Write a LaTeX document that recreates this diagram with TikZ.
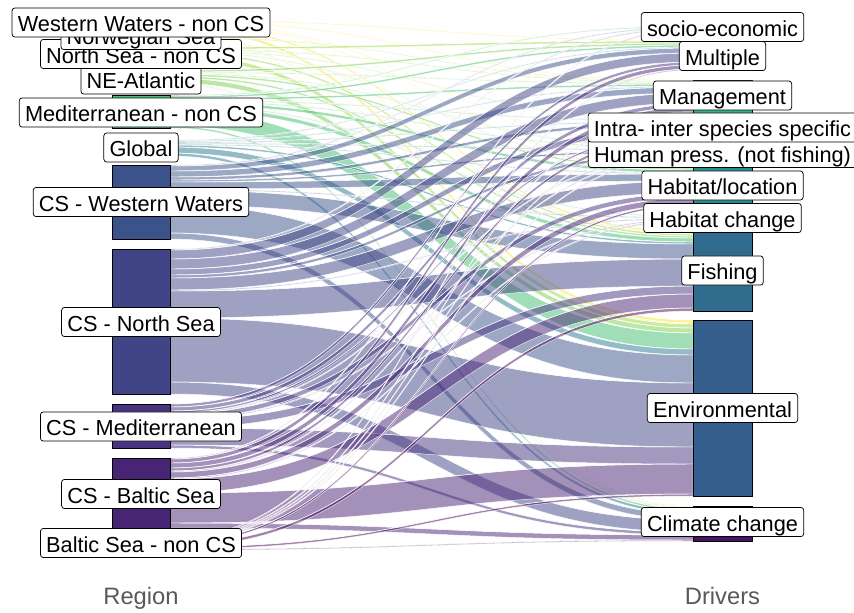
\documentclass[tikz,border=0pt]{standalone}
\usepackage{fontspec}
\setmainfont{Liberation Sans}
% region colours (top to bottom on the left axis)
\definecolor{reg1}{HTML}{FDE725}
\definecolor{reg2}{HTML}{BBDF27}
\definecolor{reg3}{HTML}{9AD93C}
\definecolor{reg4}{HTML}{7AD151}
\definecolor{reg5}{HTML}{43BF71}
\definecolor{reg6}{HTML}{2A788E}
\definecolor{reg7}{HTML}{3B528B}
\definecolor{reg8}{HTML}{414487}
\definecolor{reg9}{HTML}{463480}
\definecolor{reg10}{HTML}{482475}
\definecolor{reg11}{HTML}{440154}
% driver colours (top to bottom on the right axis)
\definecolor{drv1}{HTML}{DCE318}
\definecolor{drv2}{HTML}{5EC962}
\definecolor{drv3}{HTML}{2FB47C}
\definecolor{drv4}{HTML}{22A884}
\definecolor{drv5}{HTML}{1E9C89}
\definecolor{drv6}{HTML}{21908C}
\definecolor{drv7}{HTML}{25848E}
\definecolor{drv8}{HTML}{2F6C8E}
\definecolor{drv9}{HTML}{355F8D}
\definecolor{drv10}{HTML}{471365}
\definecolor{axgrey}{HTML}{595959}
\begin{document}
\begin{tikzpicture}[x=0.75pt,y=-0.75pt,
  lab/.style={draw=black, fill=white, rounded corners=2.2pt, line width=0.55pt,
    inner xsep=4.3pt, inner ysep=3.2pt, text height=14.5pt, text depth=1pt,
    font=\fontsize{16.3}{17}\selectfont},
  flowband/.style={fill=#1, fill opacity=0.5, draw=white, draw opacity=0.85, line width=0.35pt},
  stratum/.style={fill=#1, draw=black, line width=0.6pt},
  axtitle/.style={text=axgrey, anchor=base, font=\fontsize{17.8}{20}\selectfont}]
\useasboundingbox (0,0) rectangle (854,612);
\fill[white] (0,0) rectangle (854,612);

% running offsets of the strata (left: regions, right: drivers)
\foreach \i/\v in {1/20,2/37,3/47,4/70,5/95,6/140,7/165,8/249,9/404,10/458,11/538}
  {\expandafter\xdef\csname Lcur\i\endcsname{\v}}
\foreach \i/\v in {1/26,2/40,3/80,4/119,5/146,6/166,7/216,8/231,9/320,10/506}
  {\expandafter\xdef\csname Rcur\i\endcsname{\v}}

% flows: one row per region, columns = drivers
\foreach \r/\row in {
  1/{0,1,1,0,1,1,0,2,3,1},
  2/{0,0,1,0,0,0,0,1,1,0},
  3/{0,2,1,1,0,1,0,2,4,1},
  4/{0,2,1,0,1,2,0,2,5,1},
  5/{1,2,2,1,1,3,1,4,16,2},
  6/{0,1,1,1,1,1,0,2,6,3},
  7/{1,5,6,3,2,7,1,15,28,6},
  8/{1,9,10,6,3,12,1,27,64,12},
  9/{0,3,4,2,1,5,1,8,17,3},
  10/{1,4,5,3,1,6,1,14,30,5},
  11/{0,1,1,1,1,2,0,3,2,1}}{
  \foreach \w [count=\d] in \row {
    \ifnum\w>0\relax
      \edef\ya{\csname Lcur\r\endcsname}%
      \edef\yb{\csname Rcur\d\endcsname}%
      \pgfmathsetmacro\yaa{\ya+\w}%
      \pgfmathsetmacro\ybb{\yb+\w}%
      \fill[flowband=reg\r] (170,\ya) .. controls (431.5,\ya) and (431.5,\yb) .. (693,\yb)
        -- (693,\ybb) .. controls (431.5,\ybb) and (431.5,\yaa) .. (170,\yaa) -- cycle;
      \draw[white, line width=0.35pt, opacity=0.85] (170,\ya) .. controls (431.5,\ya) and (431.5,\yb) .. (693,\yb);
      \expandafter\xdef\csname Lcur\r\endcsname{\yaa}%
      \expandafter\xdef\csname Rcur\d\endcsname{\ybb}%
    \fi
  }
}

% strata
\foreach \i/\t/\h in {1/20/10,2/37/3,3/47/12,4/70/14,5/95/33,6/140/16,7/165/74,8/249/145,9/404/44,10/458/70,11/538/12}
  {\draw[stratum=reg\i] (112,\t) rectangle (170,\t+\h);}
\foreach \i/\t/\h in {1/26/4,2/40/30,3/80/33,4/119/18,5/146/12,6/166/40,7/216/5,8/231/80,9/320/176,10/506/35}
  {\draw[stratum=drv\i] (693,\t) rectangle (752,\t+\h);}

% left labels (drawn bottom to top)
\node[lab] (lBaln) at (141,543) {Baltic Sea - non CS};
\node[lab] (lCSBal) at (141,494) {CS - Baltic Sea};
\node[lab] (lCSMed) at (141,426.5) {CS - Mediterranean};
\node[lab] (lCSNS) at (141,322) {CS - North Sea};
\node[lab] (lCSWW) at (141,202) {CS - Western Waters};
\node[lab] (lGlob) at (141,147.5) {Global};
\node[lab] (lMedn) at (141,112.5) {Mediterranean - non CS};
\node[lab] (lNEA) at (141,79.5) {NE-Atlantic};
\node[lab] (lNSn) at (141,54) {North Sea - non CS};
\node[lab] (lNor) at (141,35) {Norwegian Sea};
\node[lab] (lWWn) at (141,22.5) {Western Waters - non CS};

% right labels
\node[lab] (rC) at (722.5,522) {Climate change};
\node[lab] (rE) at (722.5,408) {Environmental};
\node[lab] (rF) at (722.5,270.5) {Fishing};
\node[lab] (rHC) at (722.5,218) {Habitat change};
\node[lab] (rHL) at (722.5,185.5) {Habitat/location};
\node[lab] (rH) at (722.5,153) {Human press. (not fishing)};
\node[lab] (rI) at (722.5,127.5) {Intra- inter species specific};
\node[lab] (rMg) at (722.5,95.5) {Management};
\node[lab] (rM) at (722.5,56) {Multiple};
\node[lab] (rS) at (722.5,27) {socio-economic};

% axis titles
\node[axtitle] (tRegion) at (141,604) {Region};
\node[axtitle] (tDrivers) at (722.5,604) {Drivers};
\end{tikzpicture}
\end{document}
